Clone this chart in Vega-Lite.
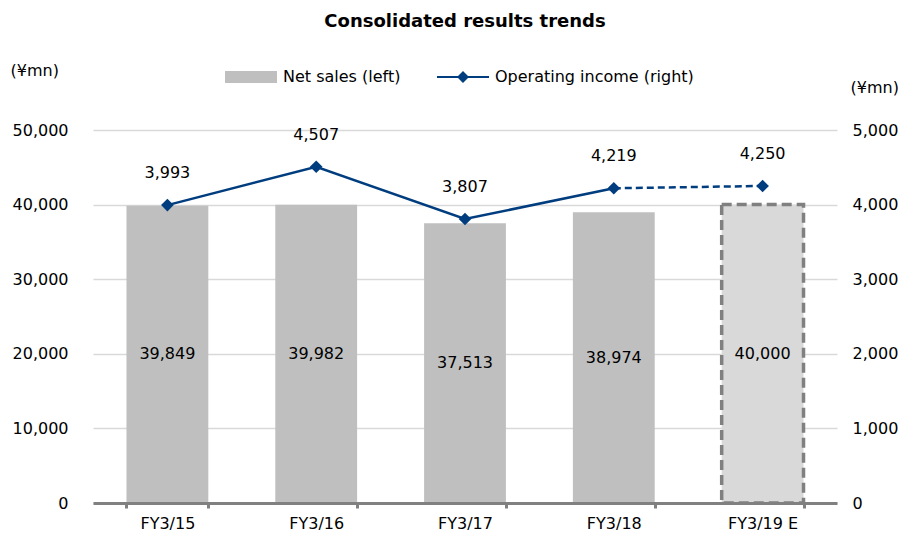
{
  "$schema": "https://vega.github.io/schema/vega-lite/v6.json",
  "width": 744,
  "height": 373,
  "autosize": {"type": "none"},
  "padding": {"left": 93, "top": 130, "right": 68, "bottom": 35},
  "background": "white",
  "config": {
    "font": "DejaVu Sans",
    "view": {"stroke": null},
    "axis": {"labelFont": "DejaVu Sans", "labelFontSize": 16, "labelColor": "black", "titleFont": "DejaVu Sans", "titleFontSize": 16, "titleFontWeight": "normal", "titleColor": "black"},
    "legend": {"labelFont": "DejaVu Sans", "labelFontSize": 16, "labelColor": "black"}
  },
  "title": {"text": "Consolidated results trends", "fontSize": 18, "fontWeight": "bold", "font": "DejaVu Sans", "anchor": "middle", "frame": "group", "offset": 20, "color": "black"},
  "data": {
    "values": [
      {"fy": "FY3/15", "sales": 39849, "income": 3993, "kind": "actual"},
      {"fy": "FY3/16", "sales": 39982, "income": 4507, "kind": "actual"},
      {"fy": "FY3/17", "sales": 37513, "income": 3807, "kind": "actual"},
      {"fy": "FY3/18", "sales": 38974, "income": 4219, "kind": "actual"},
      {"fy": "FY3/19 E", "sales": 40000, "income": 4250, "kind": "forecast"}
    ]
  },
  "encoding": {
    "x": {
      "field": "fy", "type": "nominal", "sort": null,
      "scale": {"paddingInner": 0.45, "paddingOuter": 0.225},
      "axis": {"title": null, "labelAngle": 0, "domainColor": "#808080", "domainWidth": 3, "tickColor": "#808080", "tickWidth": 3, "tickSize": 5, "tickBand": "extent", "labelPadding": 7, "zindex": 1}
    }
  },
  "layer": [
    {
      "encoding": {
        "y": {
          "field": "sales", "type": "quantitative",
          "scale": {"domain": [0, 50000], "nice": false},
          "axis": {"orient": "left", "title": "(¥mn)", "titleAngle": 0, "titleX": -83, "titleY": -60, "titleAlign": "left", "titleBaseline": "middle", "domain": false, "ticks": false, "labelPadding": 25, "grid": true, "gridColor": "#d9d9d9", "gridWidth": 1.5, "values": [0, 10000, 20000, 30000, 40000, 50000], "format": ",.0f"}
        }
      },
      "layer": [
        {
          "transform": [{"filter": "datum.kind === 'actual'"}],
          "mark": {"type": "bar"},
          "encoding": {
            "color": {
              "datum": "Net sales (left)",
              "scale": {"domain": ["Net sales (left)", "Operating income (right)"], "range": ["#bfbfbf", "#003d7f"]},
              "legend": {
                "orient": "none", "legendX": 132, "legendY": -79, "direction": "horizontal", "title": null,
                "symbolSize": 2704, "labelFontSize": 16, "labelOffset": 6, "columnPadding": 36, "padding": 0, "labelLimit": 400,
                "encode": {"symbols": {"update": {
                  "shape": {"signal": "datum.value === 'Net sales (left)' ? 'M-1,-0.23H1V0.23H-1Z' : 'M-1,-0.04H1V0.04H-1Z M0,-0.23L0.23,0L0,0.23L-0.23,0Z'"},
                  "fill": {"signal": "datum.value === 'Net sales (left)' ? '#bfbfbf' : '#003d7f'"},
                  "stroke": {"value": "transparent"},
                  "strokeWidth": {"value": 0},
                  "opacity": {"value": 1}
                }}}
              }
            }
          }
        },
        {
          "transform": [{"filter": "datum.kind === 'forecast'"}],
          "mark": {"type": "bar", "fill": "#d9d9d9", "stroke": "#808080", "strokeWidth": 3.5, "strokeDash": [10, 5]}
        },
        {
          "transform": [{"calculate": "datum.sales / 2", "as": "labelPos"}],
          "mark": {"type": "text", "fontSize": 16, "color": "black", "baseline": "middle"},
          "encoding": {
            "y": {"field": "labelPos", "type": "quantitative"},
            "text": {"field": "sales", "type": "quantitative", "format": ",.0f"}
          }
        }
      ]
    },
    {
      "encoding": {
        "y": {
          "field": "income", "type": "quantitative",
          "scale": {"domain": [0, 5000], "nice": false},
          "axis": {"orient": "right", "title": "(¥mn)", "titleAngle": 0, "titleX": 13, "titleY": -43, "titleAlign": "left", "titleBaseline": "middle", "domain": false, "ticks": false, "labelPadding": 15, "grid": false, "values": [0, 1000, 2000, 3000, 4000, 5000], "format": ",.0f"}
        }
      },
      "layer": [
        {
          "transform": [{"filter": "datum.kind === 'actual'"}],
          "mark": {"type": "line", "strokeWidth": 2.5},
          "encoding": {"color": {"datum": "Operating income (right)"}}
        },
        {
          "transform": [{"filter": "datum.fy === 'FY3/18' || datum.fy === 'FY3/19 E'"}],
          "mark": {"type": "line", "strokeWidth": 2.5, "strokeDash": [7, 4]},
          "encoding": {"color": {"datum": "Operating income (right)"}}
        },
        {
          "mark": {"type": "point", "shape": "diamond", "filled": true, "size": 160, "opacity": 1},
          "encoding": {"color": {"datum": "Operating income (right)"}}
        },
        {
          "mark": {"type": "text", "fontSize": 16, "color": "black", "baseline": "middle", "dy": -32},
          "encoding": {"text": {"field": "income", "type": "quantitative", "format": ",.0f"}}
        }
      ]
    }
  ],
  "resolve": {"scale": {"y": "independent"}}
}
